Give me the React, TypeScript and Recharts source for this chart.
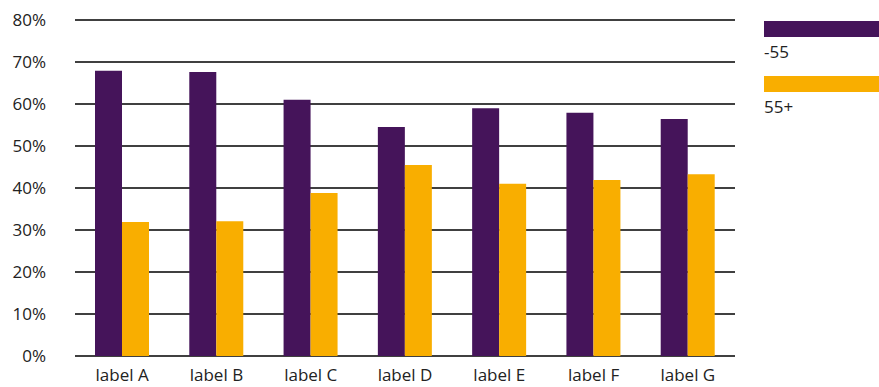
import React from "react";
import { BarChart, Bar, XAxis, YAxis, CartesianGrid } from "recharts";

const categories = ["label A", "label B", "label C", "label D", "label E", "label F", "label G"];
const under55 = [67.9, 67.6, 61.0, 54.5, 59.0, 57.9, 56.4];
const over55 = [31.9, 32.1, 38.8, 45.5, 41.0, 41.9, 43.3];
const yTicks = [0, 10, 20, 30, 40, 50, 60, 70, 80];
const seriesNames = ["-55", "55+"];

const PURPLE = "#45145A";
const ORANGE = "#F9AE00";
const FONT = "'Open Sans', sans-serif";

const data = categories.map((name, i) => ({
  name,
  under: under55[i],
  over: over55[i],
}));

function LegendBox() {
  const colors = [PURPLE, ORANGE];
  return (
    <div
      style={{
        position: "absolute",
        left: 764,
        top: 21,
        fontFamily: FONT,
        fontSize: 17,
        color: "#222",
      }}
    >
      {seriesNames.map((label, i) => (
        <div key={label} style={{ height: 55 }}>
          <div style={{ width: 115, height: 16, background: colors[i] }} />
          <div style={{ lineHeight: "22px", marginTop: 4 }}>{label}</div>
        </div>
      ))}
    </div>
  );
}

export default function App() {
  return (
    <div style={{ position: "absolute", left: 0, top: 0, width: 879, height: 387, background: "#fff" }}>
      <BarChart
        width={879}
        height={387}
        data={data}
        margin={{ top: 20, right: 144, bottom: 0, left: 0 }}
        barGap={0}
        barSize={27}
      >
        <CartesianGrid vertical={false} stroke="#000" strokeWidth={1.5} />
        <XAxis
          dataKey="name"
          axisLine={false}
          tickLine={false}
          height={31}
          tickMargin={7}
          tick={{ fill: "#222", fontSize: 17, fontFamily: FONT }}
        />
        <YAxis
          width={75}
          domain={[0, 80]}
          ticks={yTicks}
          tickFormatter={(v) => `${v}%`}
          axisLine={false}
          tickLine={false}
          tickSize={29}
          tickMargin={0}
          tick={{ fill: "#222", fontSize: 17, fontFamily: FONT }}
        />
        <Bar dataKey="under" name={seriesNames[0]} fill={PURPLE} isAnimationActive={false} />
        <Bar dataKey="over" name={seriesNames[1]} fill={ORANGE} isAnimationActive={false} />
      </BarChart>
      <LegendBox />
    </div>
  );
}
